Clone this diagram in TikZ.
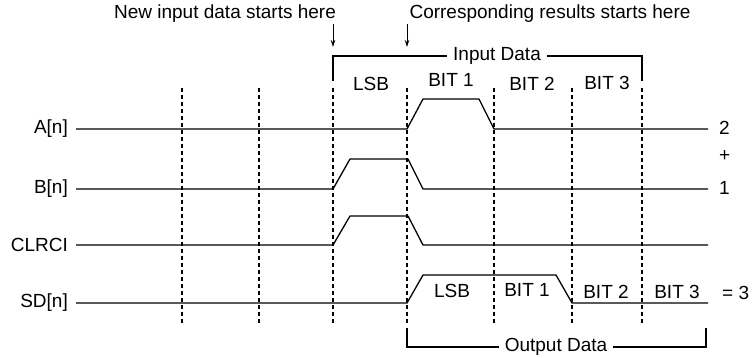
\documentclass[tikz,border=0pt]{standalone}
\usepackage{fontspec}
\setmainfont{Liberation Sans}
\usetikzlibrary{arrows.meta}

\begin{document}
\begin{tikzpicture}[x=1pt,y=-1pt,
  every node/.style={font=\fontsize{19}{22}\selectfont, inner sep=0pt},
  wave/.style={line width=1.3pt, line join=round},
  grid/.style={line width=1.1pt, dash pattern=on 4pt off 3pt},
  bracket/.style={line width=1.3pt},
  gap/.style={fill=white, inner xsep=6pt, inner ysep=2pt},
  siglabel/.style={anchor=east},
  pointer/.style={line width=0.9pt, -{Stealth[length=7pt,width=4.5pt]}}]

\useasboundingbox (0,0) rectangle (752,357);

% time-slot grid
\foreach \gx in {182,259,333,407,494,572,642}
  \draw[grid] (\gx,88) -- (\gx,323);

% annotations and pointers
\node (newin) at (225,14) {New input data starts here};
\node (corr)  at (550,14) {Corresponding results starts here};
\coordinate (p1s) at (333,24); \coordinate (p1e) at (333,47);
\coordinate (p2s) at (407,24); \coordinate (p2e) at (407,47);
\draw[pointer] (p1s) -- (p1e);
\draw[pointer] (p2s) -- (p2e);

% input data bracket
\coordinate (ib1) at (333,81); \coordinate (ib2) at (333,56);
\coordinate (ib3) at (642,56); \coordinate (ib4) at (642,81);
\draw[bracket] (ib1) -- (ib2) -- (ib3) -- (ib4);
\node[gap] (indata) at (497,56) {Input Data};

\node (in0) at (371,84) {LSB};
\node (in1) at (451,80) {BIT 1};
\node (in2) at (532,84) {BIT 2};
\node (in3) at (607,83) {BIT 3};

% signal names
\node[siglabel] (la) at (68,129) {A[n]};
\node[siglabel] (lb) at (68,189) {B[n]};
\node[siglabel] (lc) at (68,245) {CLRCI};
\node[siglabel] (ls) at (68,303) {SD[n]};

% waveforms
\coordinate (ea) at (708,129);
\coordinate (eb) at (708,189);
\coordinate (ec) at (708,245);
\coordinate (es) at (708,303);
\draw[wave] (la.east) ++(8,0) -- (407,129) -- (423,99) -- (479,99) -- (494,129) -- (ea);
\draw[wave] (lb.east) ++(8,0) -- (333,189) -- (350,159) -- (408,159) -- (423,189) -- (eb);
\draw[wave] (lc.east) ++(8,0) -- (333,245) -- (350,216) -- (408,216) -- (423,245) -- (ec);
\draw[wave] (ls.east) ++(8,0) -- (407,303) -- (423,275) -- (556,275) -- (572,303) -- (es);

% sum values
\node[anchor=west] (va) at (719,128) {2};
\node[anchor=west] (vp) at (719,156) {+};
\node[anchor=west] (vb) at (719,188) {1};
\node[anchor=west] (vs) at (722,293) {= 3};

% output bits
\node (out0) at (452,291) {LSB};
\node (out1) at (527,290) {BIT 1};
\node (out2) at (606,292) {BIT 2};
\node (out3) at (677,292) {BIT 3};

% output data bracket
\coordinate (ob1) at (407,328); \coordinate (ob2) at (407,347);
\coordinate (ob3) at (706,347); \coordinate (ob4) at (706,328);
\draw[bracket] (ob1) -- (ob2) -- (ob3) -- (ob4);
\node[gap] (outdata) at (556,347) {Output Data};
\end{tikzpicture}
\end{document}
